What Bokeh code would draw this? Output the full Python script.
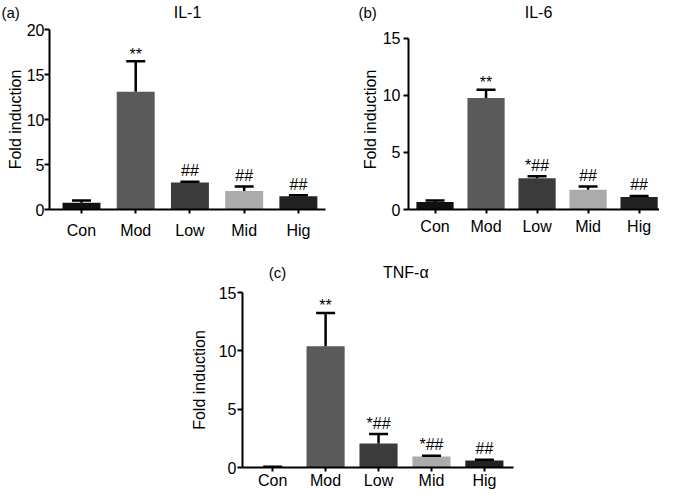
import numpy as np
from bokeh.plotting import figure
from bokeh.models import Range1d, FixedTicker, Whisker, TeeHead, ColumnDataSource, Spacer
from bokeh.layouts import column, row
from bokeh.embed import file_html
from bokeh.resources import INLINE
from bokeh.core.properties import value

FONT = "Liberation Sans"

categories = ["Con", "Mod", "Low", "Mid", "Hig"]
bar_colors = ["#111111", "#5a5a5a", "#3b3b3b", "#ababab", "#222222"]

il1_mean = [0.75, 13.07, 3.0, 2.05, 1.47]
il1_err = [0.25, 3.4, 0.08, 0.5, 0.11]
il1_sig = ["", "**", "##", "##", "##"]
il1_ticks = [0, 5, 10, 15, 20]

il6_mean = [0.66, 9.77, 2.74, 1.73, 1.1]
il6_err = [0.12, 0.73, 0.17, 0.28, 0.09]
il6_sig = ["", "**", "*##", "##", "##"]
il6_ticks = [0, 5, 10, 15]

tnf_mean = [0.05, 10.4, 2.05, 0.95, 0.59]
tnf_err = [0.02, 2.85, 0.82, 0.05, 0.08]
tnf_sig = ["", "**", "*##", "*##", "##"]
tnf_ticks = [0, 5, 10, 15]

panel_titles = ["IL-1", "IL-6", "TNF-\u03b1"]
panel_letters = ["(a)", "(b)", "(c)"]


def header(width, height, items):
    """A bare strip (no axes) holding only panel letters and titles.
    items: list of (x_px, y_px, text, align, size)."""
    h = figure(width=width, height=height, output_backend="svg", toolbar_location=None,
               x_range=Range1d(0, width), y_range=Range1d(height, 0),
               x_axis_type=None, y_axis_type=None, min_border=0)
    h.outline_line_color = None
    h.xgrid.visible = False
    h.ygrid.visible = False
    for x, y, t, align, size in items:
        h.text(x=[x], y=[y], text=[t], text_align=align, text_baseline="middle",
               text_font=value(FONT), text_font_size=size, text_color="black")
    return h


def panel(mean, err, sig, yticks, width, height, borders, xr, y_end,
          ylab_standoff, ytick_standoff, xtick_standoff, bar_w):
    bl, br, bt, bb = borders
    p = figure(width=width, height=height, output_backend="svg", toolbar_location=None,
               x_range=Range1d(*xr), y_range=Range1d(0, y_end),
               min_border_left=bl, min_border_right=br, min_border_top=bt, min_border_bottom=bb)
    p.outline_line_color = None
    p.xgrid.visible = False
    p.ygrid.visible = False
    p.background_fill_color = "white"

    xs = list(np.arange(len(categories)) + 0.5)
    upper = [m + e for m, e in zip(mean, err)]
    yoff = [-11 if "#" in s else -7 for s in sig]
    src = ColumnDataSource(dict(x=xs, top=mean, upper=upper, color=bar_colors, sig=sig, yoff=yoff))

    p.vbar(x="x", top="top", bottom=0, width=bar_w, color="color", line_color=None, source=src)
    w = Whisker(source=src, base="x", upper="upper", lower="top", dimension="height",
                line_width=2.5, line_color="black", level="annotation",
                upper_head=TeeHead(size=19, line_width=2.5, line_color="black"), lower_head=None)
    p.add_layout(w)
    p.text(x="x", y="upper", text="sig", source=src, text_align="center", text_baseline="alphabetic",
           y_offset="yoff", text_font=value(FONT), text_font_size="16px", text_color="black")

    p.xaxis.ticker = FixedTicker(ticks=xs)
    p.xaxis.major_label_overrides = {x: c for x, c in zip(xs, categories)}
    p.yaxis.ticker = FixedTicker(ticks=yticks)
    p.yaxis.bounds = (0, yticks[-1])
    for ax in (p.xaxis, p.yaxis):
        ax.axis_line_width = 2
        ax.axis_line_color = "black"
        ax.major_tick_line_width = 2
        ax.major_tick_line_color = "black"
        ax.major_tick_in = 0
        ax.minor_tick_line_color = None
        ax.major_label_text_font = FONT
        ax.major_label_text_font_size = "16px"
        ax.major_label_text_color = "black"
    p.xaxis.major_tick_out = 4
    p.yaxis.major_tick_out = 5
    p.xaxis.major_label_standoff = xtick_standoff
    p.yaxis.major_label_standoff = ytick_standoff
    p.yaxis.axis_label = "Fold induction"
    p.yaxis.axis_label_text_font = FONT
    p.yaxis.axis_label_text_font_size = "16px"
    p.yaxis.axis_label_text_font_style = "normal"
    p.yaxis.axis_label_text_color = "black"
    p.yaxis.axis_label_standoff = ylab_standoff
    return p


# top strip with letters/titles for panels (a) and (b)
h1 = header(659, 21, [(1, 12, panel_letters[0], "left", "15px"),
                      (187, 12, panel_titles[0], "center", "16px"),
                      (358, 12, panel_letters[1], "left", "15px"),
                      (538, 12, panel_titles[1], "center", "16px")])

# both frames of row 1 share their top (y=29) and bottom (y=210) pixel rows
b_end = 15 * (210 - 29) / (210 - 38)
pa = panel(il1_mean, il1_err, il1_sig, il1_ticks, 340, 220, (49, 15, 8, 31),
           (-0.09, 5.0), 20, 0, 0, 8, 0.7)
pb = panel(il6_mean, il6_err, il6_sig, il6_ticks, 319, 220, (68, 0, 8, 31),
           (-0.02, 4.9), b_end, 1, 3, 4, 0.73)

hc = header(360, 41, [(35, 31, panel_letters[2], "left", "15px"),
                      (217, 31, panel_titles[2], "center", "16px")])
pc = panel(tnf_mean, tnf_err, tnf_sig, tnf_ticks, 360, 209, (82, 7, 10, 22),
           (-0.07, 5.05), 15, 8, 1, 0, 0.72)

layout = column(h1, row(pa, pb), row(Spacer(width=160, height=250), column(hc, pc)))
open("out.html", "w").write(file_html(layout, INLINE))
